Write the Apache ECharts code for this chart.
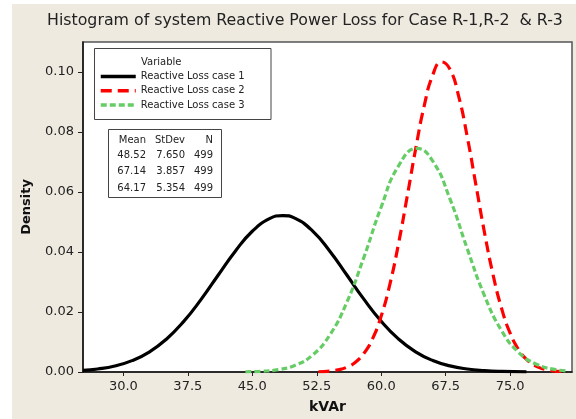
<!DOCTYPE html>
<html>
<head>
<meta charset="utf-8">
<script src="https://cdn.jsdelivr.net/npm/echarts@6/dist/echarts.min.js"></script>
<style>html,body{margin:0;padding:0;background:#fff;}#c{width:576px;height:419px;}</style>
</head>
<body>
<div id="c"></div>
<script>
const titleText = 'Histogram of system Reactive Power Loss for Case R-1,R-2  & R-3';
const seriesNames = ['Reactive Loss case 1', 'Reactive Loss case 2', 'Reactive Loss case 3'];
const xTicks = [30.0, 37.5, 45.0, 52.5, 60.0, 67.5, 75.0];
const yTicks = [0.00, 0.02, 0.04, 0.06, 0.08, 0.10];

const case1X = [25.3, 27, 29, 31, 33, 35, 37, 39, 41, 43, 45, 47, 48.52, 50, 52, 54, 56, 58, 60, 62, 64, 66, 68, 70, 72, 74, 76.9];
const case1Y = [0.00052, 0.00100, 0.00201, 0.00379, 0.00666, 0.01094, 0.01678, 0.02404, 0.03217, 0.04020, 0.04691, 0.05113, 0.05215, 0.05119, 0.04702, 0.04035, 0.03233, 0.02420, 0.01691, 0.01104, 0.00673, 0.00383, 0.00204, 0.00101, 0.00047, 0.00020, 0.00005];

const case2X = [52.7, 54, 55, 56, 57, 58, 59, 60, 61, 62, 63, 64, 65, 66, 67, 68, 69, 70, 71, 72, 73, 74, 75, 76, 77, 78, 79, 80, 81.6];
const case2Y = [0.00009, 0.00031, 0.00073, 0.00160, 0.00327, 0.00624, 0.01115, 0.01864, 0.02914, 0.04256, 0.05814, 0.07425, 0.08867, 0.09902, 0.10336, 0.10089, 0.09207, 0.07858, 0.06269, 0.04676, 0.03261, 0.02127, 0.01296, 0.00739, 0.00394, 0.00196, 0.00092, 0.00040, 0.00009];

const case3X = [44.2, 46, 48, 50, 52, 54, 56, 58, 60, 62, 64.17, 66, 68, 70, 72, 74, 76, 78, 80, 81.8];
const case3Y = [0.00007, 0.00024, 0.00078, 0.00225, 0.00563, 0.01226, 0.02326, 0.03836, 0.05502, 0.06863, 0.07451, 0.07029, 0.05769, 0.04118, 0.02557, 0.01381, 0.00649, 0.00265, 0.00094, 0.00033];

const statHeader = ['Mean', 'StDev', 'N'];
const statMean = ['48.52', '67.14', '64.17'];
const statStDev = ['7.650', '3.857', '5.354'];
const statN = ['499', '499', '499'];

const FONT = 'DejaVu Sans';
const zip = (xs, ys) => xs.map((x, i) => [x, ys[i]]);

const chart = echarts.init(document.getElementById('c'), null, {renderer: 'canvas'});

const statCols = [statMean, statStDev, statN];
const statColRight = [146, 185, 213];
const statRowY = [140, 155.7, 171.7, 188];
const statTexts = [];
for (let c = 0; c < 3; c++) {
  statTexts.push({type: 'text', z: 101, x: statColRight[c], y: statRowY[0],
    style: {text: statHeader[c], font: '10px "' + FONT + '"', fill: '#222', align: 'right', verticalAlign: 'middle'}});
  for (let r = 0; r < 3; r++) {
    statTexts.push({type: 'text', z: 101, x: statColRight[c], y: statRowY[r + 1],
      style: {text: statCols[c][r], font: '10px "' + FONT + '"', fill: '#222', align: 'right', verticalAlign: 'middle'}});
  }
}

const option = {
  backgroundColor: '#ffffff',
  animation: false,
  title: {
    text: titleText,
    left: 42, top: 8,
    textStyle: {fontFamily: FONT, fontSize: 15.8, fontWeight: 'normal', color: '#222'}
  },
  grid: {
    left: 83, right: 4, top: 42, bottom: 43,
    show: true, backgroundColor: '#ffffff', borderColor: '#555', borderWidth: 1.5
  },
  legend: {
    data: seriesNames,
    orient: 'vertical',
    left: 99, top: 71.5,
    padding: 0,
    itemWidth: 35, itemHeight: 12, itemGap: 4.3,
    itemStyle: {opacity: 0},
    lineStyle: {width: 3.5},
    textStyle: {fontFamily: FONT, fontSize: 10, color: '#222'},
    selectedMode: false,
    z: 102
  },
  xAxis: {
    type: 'value', min: 25.3, max: 82.2,
    name: 'kVAr', nameLocation: 'middle', nameGap: 28,
    nameTextStyle: {fontFamily: FONT, fontSize: 14, fontWeight: 'bold', color: '#111'},
    axisLine: {show: true, lineStyle: {color: '#111', width: 1.5}},
    axisTick: {show: true, length: 4, lineStyle: {color: '#222'}, customValues: xTicks},
    axisLabel: {fontFamily: FONT, fontSize: 13, color: '#222', margin: 8, customValues: xTicks,
      formatter: v => Number(v).toFixed(1)},
    splitLine: {show: false}
  },
  yAxis: {
    type: 'value', min: 0, max: 0.11,
    name: 'Density', nameLocation: 'middle', nameGap: 50, nameRotate: 90,
    nameTextStyle: {fontFamily: FONT, fontSize: 13, fontWeight: 'bold', color: '#111'},
    axisLine: {show: true, lineStyle: {color: '#111', width: 1.5}},
    axisTick: {show: true, length: 5, lineStyle: {color: '#222'}, customValues: yTicks},
    axisLabel: {fontFamily: FONT, fontSize: 13, color: '#222', margin: 9, customValues: yTicks,
      formatter: v => Number(v).toFixed(2)},
    splitLine: {show: false}
  },
  graphic: [
    {type: 'rect', z: -100, shape: {x: 12, y: 4, width: 564, height: 415}, style: {fill: '#eeeae0'}, silent: true},
    {type: 'rect', z: 100, shape: {x: 94.5, y: 48.5, width: 176.5, height: 71}, style: {fill: '#fff', stroke: '#444', lineWidth: 1}},
    {type: 'text', z: 101, x: 141, y: 62, style: {text: 'Variable', font: '10px "' + FONT + '"', fill: '#222', verticalAlign: 'middle'}},
    {type: 'rect', z: 100, shape: {x: 108.5, y: 129.5, width: 113, height: 68}, style: {fill: '#fff', stroke: '#444', lineWidth: 1}}
  ].concat(statTexts),
  series: [
    {name: seriesNames[0], type: 'line', data: zip(case1X, case1Y), smooth: true, symbol: 'none',
      lineStyle: {color: '#000000', width: 3.2, type: 'solid'}, itemStyle: {color: '#000000'}},
    {name: seriesNames[1], type: 'line', data: zip(case2X, case2Y), smooth: true, symbol: 'none',
      lineStyle: {color: '#ff0000', width: 3.2, type: [11, 6]}, itemStyle: {color: '#ff0000'}},
    {name: seriesNames[2], type: 'line', data: zip(case3X, case3Y), smooth: true, symbol: 'none',
      lineStyle: {color: '#66cc66', width: 3.2, type: [6, 3]}, itemStyle: {color: '#66cc66'}}
  ]
};
chart.setOption(option);
</script>
</body>
</html>
